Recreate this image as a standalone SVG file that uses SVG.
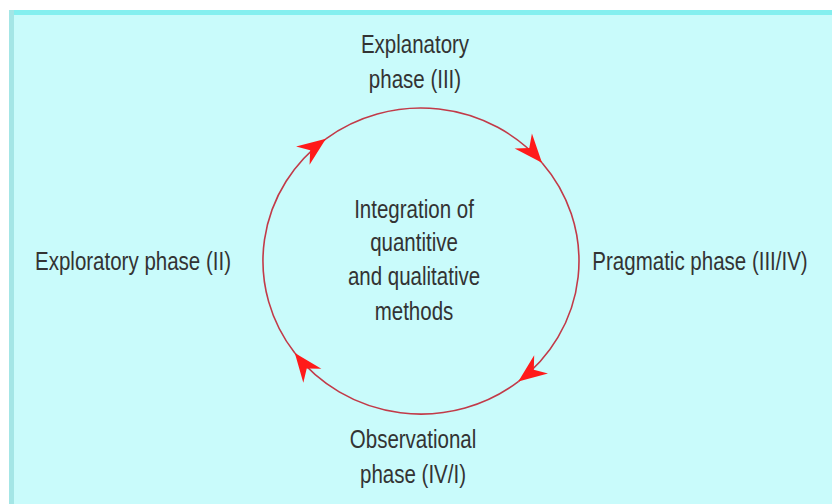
<svg xmlns="http://www.w3.org/2000/svg" width="832" height="504" viewBox="0 0 832 504">
<style>
text{font-family:"Liberation Sans",Arial,sans-serif;font-size:25px;fill:#333;text-anchor:middle}
.arc{fill:none;stroke:#c23a48;stroke-width:1.6;marker-end:url(#ah)}
</style>
<defs>
<marker id="ah" markerUnits="userSpaceOnUse" markerWidth="40" markerHeight="40" viewBox="-30 -15 35 30" refX="0" refY="0" orient="auto">
<path d="M0,0 L-25,-10 L-17,0 L-25,10 Z" fill="#ff1a1a"/>
</marker>
</defs>
<rect x="0" y="0" width="832" height="504" fill="#ffffff"/>
<rect x="9" y="10" width="823" height="494" fill="#c9fbfb"/>
<rect x="9" y="10" width="823" height="5" fill="#84efef"/>
<rect x="9" y="10" width="5" height="494" fill="#a4e6e6"/>
<g id="connectors">
<path class="arc" d="M294.8,353.1 A158,153 0 0 1 325.9,138.8"/>
<path class="arc" d="M325.9,138.8 A158,153 0 0 1 542.0,162.7"/>
<path class="arc" d="M542.0,162.7 A158,153 0 0 1 518.3,381.6"/>
<path class="arc" d="M518.3,381.6 A158,153 0 0 1 294.8,353.1"/>
</g>
<g transform="scale(0.82,1)">
<g id="explanatory"><text x="506.1" y="53">Explanatory</text><text x="506.1" y="88">phase (III)</text></g>
<g id="center"><text x="504.9" y="218">Integration of</text><text x="504.9" y="251">quantitive</text><text x="504.9" y="285">and qualitative</text><text x="504.9" y="320">methods</text></g>
<g id="exploratory"><text x="162.2" y="270">Exploratory phase (II)</text></g>
<g id="pragmatic"><text x="853.7" y="270">Pragmatic phase (III/IV)</text></g>
<g id="observational"><text x="503.7" y="448">Observational</text><text x="503.7" y="483">phase (IV/I)</text></g>
</g>
</svg>
